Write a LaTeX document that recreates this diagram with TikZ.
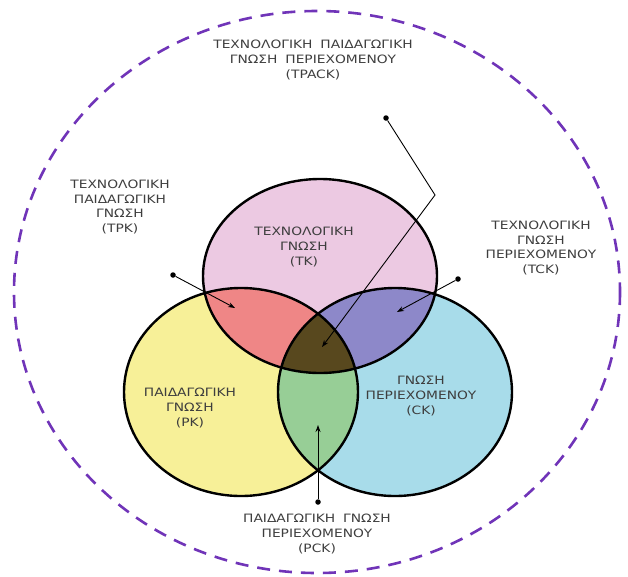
\documentclass[tikz,border=0pt]{standalone}
\usepackage{fontspec}
\setmainfont{DejaVu Sans}[FakeStretch=1.2,WordSpace=1.8]
\usetikzlibrary{arrows.meta}
\definecolor{tkpink}{RGB}{236,201,226}
\definecolor{pkyellow}{RGB}{247,240,152}
\definecolor{ckblue}{RGB}{168,220,234}
\definecolor{tpkred}{RGB}{239,134,134}
\definecolor{tckviolet}{RGB}{141,136,201}
\definecolor{pckgreen}{RGB}{151,206,150}
\definecolor{tpackolive}{RGB}{88,72,30}
\definecolor{ringviolet}{RGB}{112,52,184}
\definecolor{labelgrey}{RGB}{62,62,62}
\tikzset{
    venntop/.style={x radius=117,y radius=97},
    venn/.style={x radius=117,y radius=104},
    rim/.style={line width=2.4pt},
    caption/.style={align=center,font=\fontsize{11.5}{14.8}\selectfont,text=labelgrey,inner sep=0pt},
    pointer/.style={line width=0.9pt,-{Stealth[length=7pt,width=5pt]}},
    pin/.style={circle,fill=black,inner sep=0pt,minimum size=5.5pt}
}
\begin{document}
\begin{tikzpicture}[x=1pt,y=-1pt]
    \useasboundingbox (0,0) rectangle (628,576);
    \coordinate (T) at (320,276);
    \coordinate (P) at (241,392);
    \coordinate (C) at (395,392);
    \draw[ringviolet,line width=2.6pt,dash pattern=on 13pt off 9pt] (317,292) ellipse [x radius=303,y radius=281];
    \fill[tkpink] (T) ellipse [venntop];
    \fill[pkyellow] (P) ellipse [venn];
    \fill[ckblue] (C) ellipse [venn];
    \begin{scope}
        \clip (T) ellipse [venntop];
        \fill[tpkred] (P) ellipse [venn];
        \fill[tckviolet] (C) ellipse [venn];
    \end{scope}
    \begin{scope}
        \clip (P) ellipse [venn];
        \fill[pckgreen] (C) ellipse [venn];
        \clip (C) ellipse [venn];
        \fill[tpackolive] (T) ellipse [venntop];
    \end{scope}
    \draw[rim] (T) ellipse [venntop];
    \draw[rim] (P) ellipse [venn];
    \draw[rim] (C) ellipse [venn];
    \node[caption] (tpacktext) at (313,60) {ΤΕΧΝΟΛΟΓΙΚΗ ΠΑΙΔΑΓΩΓΙΚΗ\\ΓΝΩΣΗ ΠΕΡΙΕΧΟΜΕΝΟΥ\\(TPACK)};
    \node[caption] (tpktext) at (120,207) {ΤΕΧΝΟΛΟΓΙΚΗ\\ΠΑΙΔΑΓΩΓΙΚΗ\\ΓΝΩΣΗ\\(TPK)};
    \node[caption] (tcktext) at (541,248) {ΤΕΧΝΟΛΟΓΙΚΗ\\ΓΝΩΣΗ\\ΠΕΡΙΕΧΟΜΕΝΟΥ\\(TCK)};
    \node[caption] (tktext) at (304,247) {ΤΕΧΝΟΛΟΓΙΚΗ\\ΓΝΩΣΗ\\(TK)};
    \node[caption] (pktext) at (190,408) {ΠΑΙΔΑΓΩΓΙΚΗ\\ΓΝΩΣΗ\\(PK)};
    \node[caption] (cktext) at (421,396) {ΓΝΩΣΗ\\ΠΕΡΙΕΧΟΜΕΝΟΥ\\(CK)};
    \node[caption] (pcktext) at (317,534) {ΠΑΙΔΑΓΩΓΙΚΗ ΓΝΩΣΗ\\ΠΕΡΙΕΧΟΜΕΝΟΥ\\(PCK)};
    \node[pin] (tpackpin) at (386,118) {};
    \node[pin] (tpkpin) at (173,275) {};
    \node[pin] (tckpin) at (458,279) {};
    \node[pin] (pckpin) at (318,502) {};
    \coordinate (tpackbend) at (435,195);
    \coordinate (tpacktip) at (322,347);
    \coordinate (tpktip) at (235,308);
    \coordinate (tcktip) at (397,312);
    \coordinate (pcktip) at (318,425);
    \draw[pointer] (tpackpin) -- (tpackbend) -- (tpacktip);
    \draw[pointer] (tpkpin) -- (tpktip);
    \draw[pointer] (tckpin) -- (tcktip);
    \draw[pointer] (pckpin) -- (pcktip);
\end{tikzpicture}
\end{document}
